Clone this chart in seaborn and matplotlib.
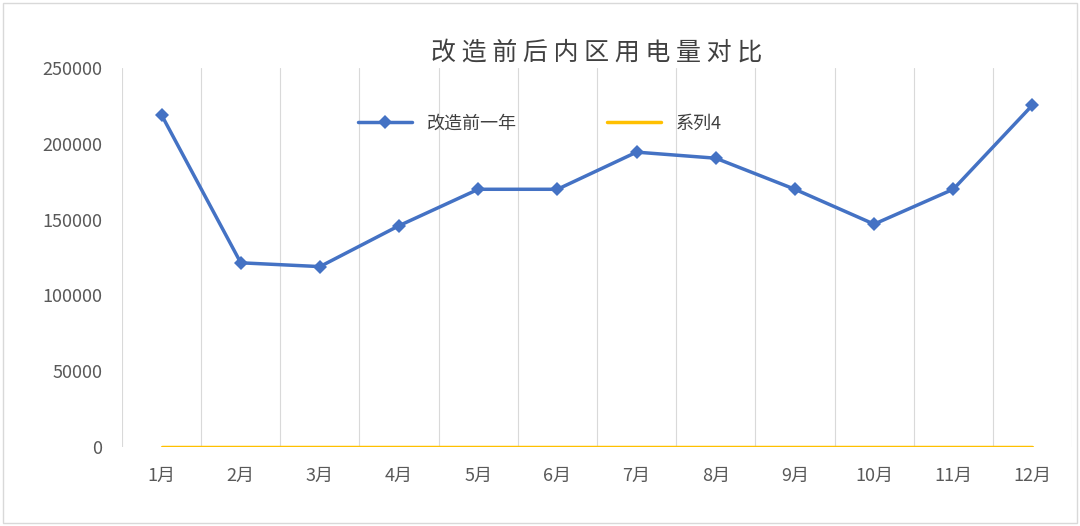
import numpy as np
import pandas as pd
import matplotlib
matplotlib.use("Agg")
import matplotlib.pyplot as plt
import seaborn as sns

plt.rcParams["font.family"] = "Noto Sans CJK SC"
sns.set_theme(style="white", font="Noto Sans CJK SC")

months = ["1月", "2月", "3月", "4月", "5月", "6月", "7月", "8月", "9月", "10月", "11月", "12月"]
before = [219000, 121500, 119000, 146000, 170000, 170000, 194500, 190500, 170000, 147000, 170000, 225500]
series4 = [0] * 12

df = pd.DataFrame({"month": months, "before": before, "s4": series4})
x = np.arange(len(months))

fig = plt.figure(figsize=(10.8, 5.26), dpi=100)
fig.patches.append(plt.Rectangle((0.003, 0.005), 0.994, 0.99, transform=fig.transFigure,
                                 fill=False, edgecolor="#d9d9d9", linewidth=1))
ax = fig.add_axes([122 / 1080, 1 - 447 / 526, 950 / 1080, 379 / 526])

sns.lineplot(x=x, y=df["before"], ax=ax, color="#4472C4", linewidth=2.5,
             marker="D", markersize=7, markeredgewidth=0, label="改造前一年")
sns.lineplot(x=x, y=df["s4"], ax=ax, color="#FFC000", linewidth=2.5, label="系列4")

ax.set_xlim(-0.5, 11.5)
ax.set_ylim(0, 250000)
ax.set_yticks(range(0, 250001, 50000))
ax.set_xticks(x)
ax.set_xticklabels(months)
for b in np.arange(-0.5, 11.6, 1):
    ax.axvline(b, color="#d9d9d9", linewidth=0.8, zorder=0)
ax.tick_params(axis="both", labelsize=13, colors="#595959", length=0, pad=14)
ax.set_xlabel("")
ax.set_ylabel("")
for s in ax.spines.values():
    s.set_visible(False)
ax.set_title("改 造 前 后 内 区 用 电 量 对 比", fontsize=18, color="#404040", pad=6)
ax.legend(loc="upper center", bbox_to_anchor=(0.44, 0.92), ncol=2, frameon=False,
          fontsize=13, columnspacing=5, handlelength=3, labelcolor="#404040")

plt.savefig("out.png", dpi=100)
